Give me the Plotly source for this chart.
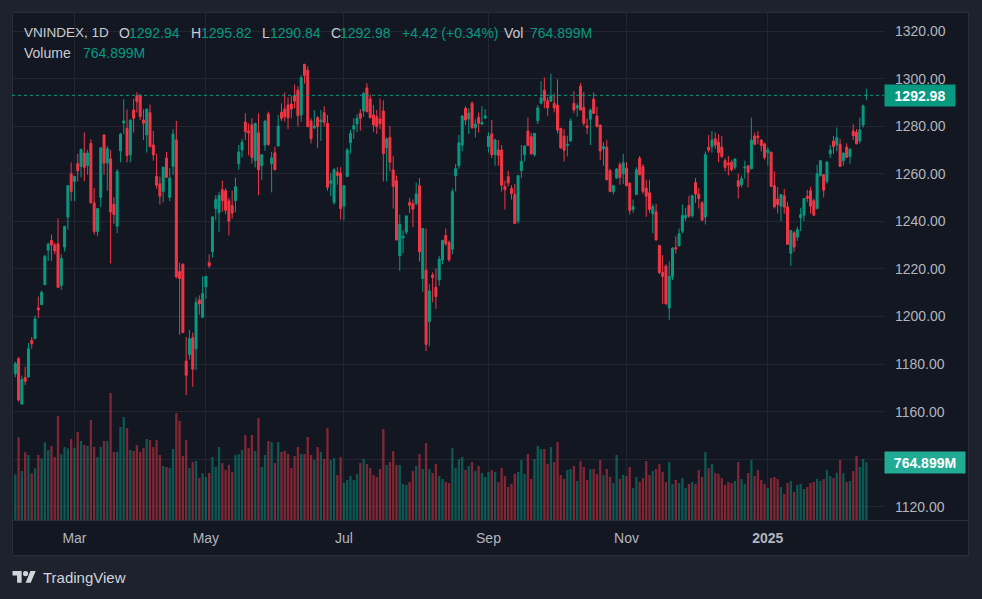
import plotly.graph_objects as go

# ---------------- data ----------------
open_ = [1176.0,1182.3,1163.2,1174.4,1174.6,1190.0,1190.7,1203.6,1205.0,1213.4,1227.9,1232.0,1230.1,1230.6,1213.0,1229.2,1241.8,1260.0,1256.8,1264.2,
         1263.1,1268.7,1263.5,1272.8,1247.8,1235.7,1250.1,1276.3,1264.5,1266.3,1247.1,1238.0,1269.6,1281.3,1279.1,1268.0,1286.8,1292.8,1293.0,1282.6,
         1276.3,1285.7,1272.1,1258.9,1255.8,1252.6,1266.6,1250.1,1263.1,1274.2,1218.9,1222.0,1181.3,1184.0,1191.1,1186.5,1207.0,1199.7,1212.5,1222.7,
         1227.2,1245.4,1243.6,1253.3,1252.9,1248.7,1246.7,1248.7,1264.2,1270.0,1281.8,1278.0,1280.5,1265.5,1277.2,1263.5,1272.1,1285.1,1264.3,1268.8,
         1271.7,1285.9,1287.2,1288.9,1289.3,1293.0,1295.1,1284.7,1306.0,1303.5,1282.2,1279.4,1283.6,1281.9,1285.7,1281.2,1256.0,1248.0,1260.7,1260.3,
         1246.4,1258.9,1273.1,1278.8,1280.9,1285.4,1286.4,1296.1,1291.4,1284.7,1284.0,1283.0,1286.4,1271.0,1275.3,1261.6,1257.1,1225.5,1233.0,1235.5,
         1247.9,1247.4,1247.4,1255.0,1216.0,1219.5,1197.9,1217.5,1212.3,1215.5,1223.8,1234.1,1231.1,1228.3,1259.2,1263.4,1272.1,1287.5,1283.0,1289.6,
         1279.4,1283.8,1280.9,1283.4,1271.4,1276.7,1268.0,1270.0,1270.0,1254.7,1258.8,1253.8,1251.3,1240.1,1261.3,1268.0,1278.0,1275.6,1268.0,1282.3,
         1289.6,1295.1,1290.7,1290.5,1289.6,1288.9,1279.1,1275.8,1271.9,1273.8,1289.6,1287.7,1296.8,1287.9,1280.2,1282.9,1291.4,1284.3,1280.5,1270.5,
         1271.2,1261.3,1252.6,1258.2,1263.8,1260.0,1262.4,1256.1,1245.0,1251.3,1266.6,1263.0,1254.0,1252.0,1243.2,1244.0,1229.9,1218.5,1221.2,1203.6,
         1216.7,1229.0,1229.7,1235.9,1241.5,1246.7,1242.5,1256.3,1251.5,1247.8,1241.8,1271.2,1271.4,1274.7,1273.3,1271.2,1265.5,1264.5,1264.9,1262.7,
         1257.1,1255.4,1262.4,1263.4,1262.1,1275.9,1275.9,1274.2,1272.6,1268.9,1269.1,1255.0,1249.4,1246.4,1250.8,1246.1,1226.6,1235.2,1233.4,1241.5,
         1242.6,1250.6,1252.9,1248.7,1245.4,1259.2,1259.6,1256.8,1268.4,1273.8,1272.1,1272.4,1265.5,1271.2,1267.3,1278.0,1277.4,1273.8,1280.5,1292.94]
high = [1181.0,1183.0,1175.2,1178.9,1188.9,1191.4,1200.4,1208.4,1210.9,1226.0,1231.1,1234.5,1231.1,1241.2,1226.2,1238.1,1255.2,1264.8,1259.1,1268.4,
        1270.5,1277.4,1270.1,1274.5,1254.0,1245.6,1271.1,1276.7,1271.7,1270.0,1250.1,1262.0,1277.2,1291.4,1287.0,1282.8,1291.6,1294.3,1293.5,1287.0,
        1287.4,1289.1,1278.0,1268.4,1258.8,1263.0,1269.2,1262.4,1278.8,1282.2,1222.7,1222.3,1191.4,1194.4,1193.3,1208.1,1208.9,1216.9,1217.0,1226.2,
        1242.0,1251.0,1252.4,1257.1,1254.0,1249.9,1252.9,1258.4,1272.1,1274.7,1285.5,1281.2,1283.3,1281.4,1285.4,1268.2,1282.4,1286.1,1269.2,1271.3,
        1284.7,1289.6,1294.2,1292.1,1292.6,1297.6,1296.8,1301.4,1306.2,1305.2,1283.3,1286.8,1284.3,1286.8,1288.4,1284.7,1260.3,1262.5,1262.8,1262.8,
        1255.2,1270.8,1278.4,1283.3,1285.0,1287.2,1294.4,1298.1,1293.3,1288.9,1286.8,1291.6,1290.9,1275.3,1280.1,1267.5,1259.3,1242.9,1236.2,1242.5,
        1249.9,1249.2,1256.3,1258.2,1237.2,1237.0,1213.6,1218.5,1220.2,1225.5,1232.3,1237.0,1232.0,1253.8,1264.2,1276.3,1284.5,1288.4,1287.5,1290.5,
        1282.9,1285.8,1288.4,1287.2,1277.4,1282.6,1274.7,1274.2,1272.1,1257.1,1261.3,1255.2,1255.7,1259.4,1272.1,1271.9,1283.6,1277.3,1277.2,1288.9,
        1298.9,1300.4,1292.3,1302.1,1293.7,1299.7,1279.3,1278.8,1276.0,1283.3,1294.7,1289.6,1298.1,1294.4,1283.3,1287.5,1294.2,1288.2,1280.7,1273.3,
        1274.2,1262.1,1255.4,1262.4,1264.9,1268.4,1264.9,1256.3,1249.2,1262.8,1267.5,1264.1,1257.5,1257.5,1247.4,1247.4,1230.1,1225.8,1222.0,1223.1,
        1229.2,1233.7,1237.0,1247.1,1245.7,1250.8,1251.3,1258.2,1254.0,1248.5,1269.4,1276.3,1278.0,1277.4,1276.6,1275.9,1266.6,1267.5,1265.9,1266.6,
        1260.0,1259.2,1265.5,1263.6,1283.6,1277.4,1278.0,1274.4,1273.0,1271.2,1269.3,1261.0,1254.5,1251.5,1253.7,1248.2,1236.4,1235.9,1237.7,1245.7,
        1249.8,1253.3,1254.5,1249.6,1263.8,1265.9,1259.8,1265.2,1272.1,1275.9,1279.5,1274.7,1268.9,1272.8,1270.8,1280.8,1278.8,1283.6,1289.1,1295.82]
low = [1174.5,1164.2,1163.0,1171.2,1174.4,1186.5,1190.5,1199.4,1204.8,1213.2,1223.4,1223.4,1226.2,1212.0,1211.3,1227.3,1236.6,1248.5,1248.5,1256.8,
       1258.5,1256.8,1259.6,1247.6,1234.5,1233.8,1246.0,1259.6,1252.9,1222.3,1239.0,1235.0,1264.8,1276.7,1264.8,1264.8,1277.3,1285.8,1282.6,1274.2,
       1268.9,1271.2,1265.5,1253.8,1247.1,1248.0,1258.3,1248.5,1259.6,1216.0,1192.3,1193.0,1167.0,1181.9,1170.5,1177.6,1200.8,1199.5,1207.4,1220.4,
       1224.8,1240.5,1235.5,1244.0,1243.0,1234.1,1241.2,1243.9,1261.7,1266.9,1274.2,1267.7,1264.3,1262.7,1251.0,1257.5,1269.6,1271.7,1252.2,1261.5,
       1271.5,1282.2,1281.9,1278.8,1283.3,1287.5,1279.8,1281.9,1297.9,1279.6,1272.8,1278.8,1270.8,1273.8,1279.8,1252.9,1250.6,1247.0,1255.4,1240.8,
       1240.5,1258.5,1268.5,1274.7,1277.4,1278.1,1284.0,1285.9,1283.3,1277.7,1276.7,1278.8,1256.8,1256.8,1261.0,1245.4,1232.0,1219.2,1226.6,1234.5,
       1243.5,1237.6,1246.8,1223.1,1210.4,1185.5,1187.5,1206.0,1203.2,1213.0,1222.0,1229.7,1223.0,1226.2,1252.6,1262.1,1269.4,1280.5,1276.7,1278.8,
       1275.2,1277.4,1280.5,1283.0,1268.9,1266.6,1263.4,1263.4,1252.6,1245.0,1254.7,1249.2,1239.0,1239.1,1258.2,1265.2,1271.7,1268.0,1267.3,1280.9,
       1289.1,1287.5,1284.3,1290.3,1285.8,1277.0,1270.6,1265.2,1267.3,1273.5,1285.4,1284.0,1286.6,1280.2,1276.7,1272.1,1285.2,1279.6,1265.9,1263.4,
       1257.3,1252.2,1251.3,1257.9,1255.4,1255.7,1254.7,1242.9,1243.6,1251.0,1259.4,1251.5,1241.9,1243.6,1235.0,1232.0,1217.8,1205.3,1205.1,1198.7,
       1215.3,1226.5,1229.5,1235.0,1240.1,1241.5,1241.5,1247.8,1245.4,1240.3,1238.7,1268.9,1268.9,1270.5,1264.8,1266.6,1261.0,1259.3,1261.0,1261.7,
       1249.6,1254.3,1257.9,1254.3,1261.9,1271.9,1272.4,1269.4,1266.0,1263.4,1254.5,1245.4,1243.3,1240.1,1243.2,1230.2,1221.3,1227.2,1231.8,1235.9,
       1240.1,1248.0,1243.3,1242.4,1245.0,1258.9,1250.1,1255.8,1266.6,1268.4,1269.4,1262.9,1263.4,1266.6,1264.2,1274.2,1272.4,1272.8,1279.4,1290.84]
close = [1180.2,1164.9,1173.5,1172.8,1186.5,1188.6,1199.0,1202.8,1210.2,1225.3,1230.4,1230.1,1227.6,1212.3,1224.5,1237.9,1255.0,1252.6,1258.9,1261.3,
         1270.3,1262.7,1268.7,1247.8,1235.7,1245.4,1270.9,1264.5,1270.5,1243.9,1242.9,1261.0,1276.7,1282.2,1267.7,1282.6,1283.3,1290.3,1284.0,1281.3,
         1287.2,1271.4,1268.0,1255.2,1250.6,1262.8,1258.5,1258.2,1276.7,1216.7,1216.0,1193.3,1175.3,1190.7,1177.9,1206.0,1205.3,1209.7,1216.9,1221.3,
         1241.9,1249.2,1251.0,1248.7,1244.7,1240.1,1243.5,1254.6,1269.2,1273.3,1277.7,1277.2,1266.9,1281.2,1261.7,1268.0,1282.2,1272.4,1266.7,1261.7,
         1280.1,1283.3,1284.0,1283.6,1287.2,1290.5,1284.4,1300.4,1301.4,1279.8,1274.7,1280.1,1279.8,1282.6,1281.6,1254.3,1257.1,1261.7,1259.3,1245.4,
         1255.0,1270.0,1277.0,1280.2,1283.3,1283.3,1293.7,1286.1,1283.6,1280.5,1279.8,1281.1,1268.5,1274.7,1264.9,1254.7,1232.2,1238.7,1233.8,1242.3,
         1246.8,1245.1,1251.5,1227.2,1237.0,1188.3,1210.7,1216.4,1208.4,1224.1,1232.0,1230.6,1223.8,1252.6,1262.1,1273.0,1284.3,1282.6,1285.5,1279.4,
         1280.9,1281.2,1281.6,1284.3,1275.9,1268.0,1274.2,1267.7,1255.2,1253.3,1256.1,1251.7,1239.1,1259.2,1265.2,1271.7,1271.9,1268.4,1277.0,1287.7,
         1291.9,1290.7,1287.7,1292.8,1287.7,1278.4,1270.8,1269.9,1272.4,1282.2,1286.8,1288.6,1286.8,1281.2,1279.4,1286.8,1285.4,1279.8,1269.6,1271.4,
         1257.5,1252.6,1255.0,1262.0,1258.5,1264.6,1255.0,1244.6,1246.2,1261.7,1259.6,1252.6,1250.6,1245.0,1246.2,1232.2,1218.5,1216.9,1205.3,1216.9,
         1228.6,1228.4,1234.8,1242.5,1242.5,1242.2,1250.8,1251.5,1249.6,1240.5,1268.0,1270.0,1274.2,1272.1,1268.9,1267.3,1262.7,1263.8,1261.7,1266.2,
         1254.7,1257.9,1262.8,1260.6,1274.2,1272.4,1275.2,1271.9,1266.9,1270.0,1254.7,1246.1,1247.1,1251.3,1246.0,1230.4,1236.2,1229.2,1236.5,1242.9,
         1249.6,1249.6,1246.4,1242.6,1260.0,1265.5,1253.1,1265.0,1270.0,1271.4,1275.3,1263.1,1268.7,1266.9,1270.3,1276.0,1272.6,1278.4,1288.56,1292.98]
volume_m = [603,1091,647,893,858,616,682,858,814,1025,924,977,832,1373,871,964,946,1069,955,1162,
            1043,990,977,1320,964,832,964,1043,1043,1676,898,900,1228,1360,1214,924,911,990,898,950,
            1069,1056,964,1056,858,713,700,686,937,1412,1307,845,1056,686,766,779,554,620,568,620,
            832,700,964,752,660,726,634,858,871,924,1122,950,1122,911,1346,700,858,1043,1030,752,
            1030,898,911,871,686,845,964,871,871,1096,858,792,964,898,805,1214,792,818,594,832,
            488,528,581,528,607,752,805,739,686,594,568,673,1201,726,766,911,726,726,475,462,
            502,647,713,871,673,1016,673,620,739,581,541,502,488,950,686,805,832,660,713,766,
            647,713,620,568,634,660,634,502,686,581,436,475,607,634,792,607,871,541,805,977,
            937,937,739,964,766,1030,594,541,660,673,713,515,779,700,528,673,673,607,792,594,
            673,568,488,858,541,594,581,700,422,568,502,554,779,594,647,673,739,634,502,766,
            475,528,488,554,422,475,502,475,660,568,898,686,739,620,607,554,462,502,488,515,
            766,541,475,620,792,581,660,528,475,422,554,568,541,436,343,488,515,370,462,475,
            409,436,488,502,541,515,541,660,581,554,620,792,620,502,515,647,845,700,805,764.899]

symbol = "VNINDEX"
interval = "1D"
month_labels = ["Mar", "May", "Jul", "Sep", "Nov", "<b>2025</b>"]
month_first_bar = [18, 58, 100, 144, 186, 229]
price_ticks = [1120, 1140, 1160, 1180, 1200, 1220, 1240, 1260, 1280, 1300, 1320]
# the 1140 label is hidden behind the volume label on the reference scale
price_tick_text = ["1120.00", "", "1160.00", "1180.00", "1200.00", "1220.00", "1240.00",
                   "1260.00", "1280.00", "1300.00", "1320.00"]

# ---------------- styling ----------------
UP = "#089981"
DOWN = "#f23645"
UP_VOL = "rgba(8,153,129,0.5)"
DOWN_VOL = "rgba(242,54,69,0.5)"
PANEL = "#131722"
OUTER = "#1e222d"
GRID = "#232631"
TXT = "#b2b5be"
HDR = "#c9ccd4"
FONT = "Liberation Sans"

W, H = 982, 599
L, R, T, B = 12, 98, 12, 79
PW, PH = W - L - R, H - T - B

def px_x(p):
    return (p - L) / PW

def px_y(p):
    return (H - B - p) / PH

n = len(close)
xs = list(range(n))
vol_colors = [UP_VOL if c >= o else DOWN_VOL for o, c in zip(open_, close)]

fig = go.Figure()
fig.add_trace(go.Bar(x=xs, y=volume_m, marker=dict(color=vol_colors, line=dict(width=0)),
                     yaxis="y", hoverinfo="skip", showlegend=False))
fig.add_trace(go.Candlestick(x=xs, open=open_, high=high, low=low, close=close, yaxis="y2",
                             increasing=dict(line=dict(color=UP, width=1), fillcolor=UP),
                             decreasing=dict(line=dict(color=DOWN, width=1), fillcolor=DOWN),
                             whiskerwidth=0, showlegend=False, hoverinfo="skip"))

last_close = close[-1]
last_vol = volume_m[-1]

shapes = [
    dict(type="rect", xref="paper", yref="paper", x0=px_x(12.5), x1=px_x(968.5), y0=px_y(555.5), y1=px_y(12.5),
         fillcolor=PANEL, line=dict(color="#2a2e39", width=1), layer="below"),
    dict(type="line", xref="paper", yref="paper", x0=px_x(12.5), x1=px_x(968.5), y0=px_y(520.5), y1=px_y(520.5),
         line=dict(color="#2a2e39", width=1), layer="above"),
    dict(type="line", xref="paper", yref="y2", x0=0, x1=1, y0=last_close, y1=last_close,
         line=dict(color=UP, width=1, dash="dot"), layer="above"),
]

def lp(u, v):
    return f"{px_x(12.5 + 0.653 * u):.5f},{px_y(568.4 + 0.653 * v):.5f}"

tpath = "M" + " L".join(lp(u, v) for u, v in [(0, 4), (14, 4), (14, 22), (7, 22), (7, 11), (0, 11)]) + " Z"
spath = "M" + " L".join(lp(u, v) for u, v in [(20, 22), (27.5, 4), (35.5, 4), (28, 22)]) + " Z"
shapes += [
    dict(type="path", xref="paper", yref="paper", path=tpath, fillcolor="#d1d4dc", line=dict(width=0)),
    dict(type="path", xref="paper", yref="paper", path=spath, fillcolor="#d1d4dc", line=dict(width=0)),
    dict(type="circle", xref="paper", yref="paper", x0=px_x(12.5 + 0.653 * 16), x1=px_x(12.5 + 0.653 * 24),
         y0=px_y(568.4 + 0.653 * 4), y1=px_y(568.4 + 0.653 * 12), fillcolor="#d1d4dc", line=dict(width=0)),
]

annotations = []

def hdr(text, xpix, ypix, color, size=14):
    annotations.append(dict(text=text, xref="paper", yref="paper", x=px_x(xpix), y=px_y(ypix),
                            xanchor="left", yanchor="middle", showarrow=False,
                            font=dict(family=FONT, size=size, color=color)))

chg = close[-1] - close[-2]
pct = chg / close[-2] * 100
hdr(f"{symbol}, {interval}", 22, 32.5, HDR, 13.5)
hdr("O", 117, 32.5, HDR); hdr(f"{open_[-1]:.2f}", 127, 32.5, UP)
hdr("H", 189, 32.5, HDR); hdr(f"{high[-1]:.2f}", 199, 32.5, UP)
hdr("L", 260, 32.5, HDR); hdr(f"{low[-1]:.2f}", 268, 32.5, UP)
hdr("C", 329, 32.5, HDR); hdr(f"{close[-1]:.2f}", 338, 32.5, UP)
hdr(f"{chg:+.2f} ({pct:+.2f}%)", 400, 32.5, UP)
hdr("Vol", 502, 32.5, HDR); hdr(f"{last_vol:.3f}M", 528, 32.5, UP)
hdr("Volume", 22, 53.5, HDR); hdr(f"{last_vol:.3f}M", 81, 53.5, UP)

annotations.append(dict(text=f"<b>{last_close:.2f}</b>", xref="paper", yref="y2", x=1, y=last_close,
                        xanchor="left", yanchor="middle", showarrow=False, bgcolor=UP,
                        width=66, height=17, borderpad=2, align="center",
                        font=dict(family=FONT, size=14, color="#ffffff")))
annotations.append(dict(text=f"<b>{last_vol:.3f}M</b>", xref="paper", yref="y", x=1, y=last_vol,
                        xanchor="left", yanchor="middle", showarrow=False, bgcolor="#22ab94",
                        width=76, height=17, borderpad=2, align="center",
                        font=dict(family=FONT, size=14, color="#ffffff")))
annotations.append(dict(text="TradingView", xref="paper", yref="paper", x=px_x(41), y=px_y(577.5),
                        xanchor="left", yanchor="middle", showarrow=False,
                        font=dict(family=FONT, size=15, color="#d1d4dc")))

ymin, ymax = 1114.5, 1328.0
vol_max_axis = 6706

fig.update_layout(
    width=W, height=H,
    margin=dict(l=L, r=R, t=T, b=B, pad=0),
    paper_bgcolor=OUTER, plot_bgcolor=PANEL,
    font=dict(family=FONT, color=TXT, size=14),
    showlegend=False, bargap=0.3, boxgap=0.4, boxgroupgap=0,
    hovermode=False,
    xaxis=dict(range=[-1.004, 264.36], tickmode="array", tickvals=month_first_bar, ticktext=month_labels,
               showgrid=True, gridcolor=GRID, gridwidth=1, zeroline=False, showline=False,
               ticks="", ticklabelstandoff=8, tickfont=dict(family=FONT, size=14, color=TXT),
               rangeslider=dict(visible=False), fixedrange=True),
    yaxis=dict(range=[0, vol_max_axis], visible=False, showgrid=False, zeroline=False, fixedrange=True),
    yaxis2=dict(overlaying="y", side="right", range=[ymin, ymax], tickmode="array", tickvals=price_ticks,
                ticktext=price_tick_text, showgrid=True, gridcolor=GRID, gridwidth=1,
                zeroline=False, showline=False, ticks="", ticklabelstandoff=10,
                tickfont=dict(family=FONT, size=14, color=TXT), fixedrange=True),
    shapes=shapes, annotations=annotations,
)

fig.write_html("out.html", config=dict(displayModeBar=False, staticPlot=True),
               post_script="document.body.style.margin='0px';document.body.style.overflow='hidden';")
